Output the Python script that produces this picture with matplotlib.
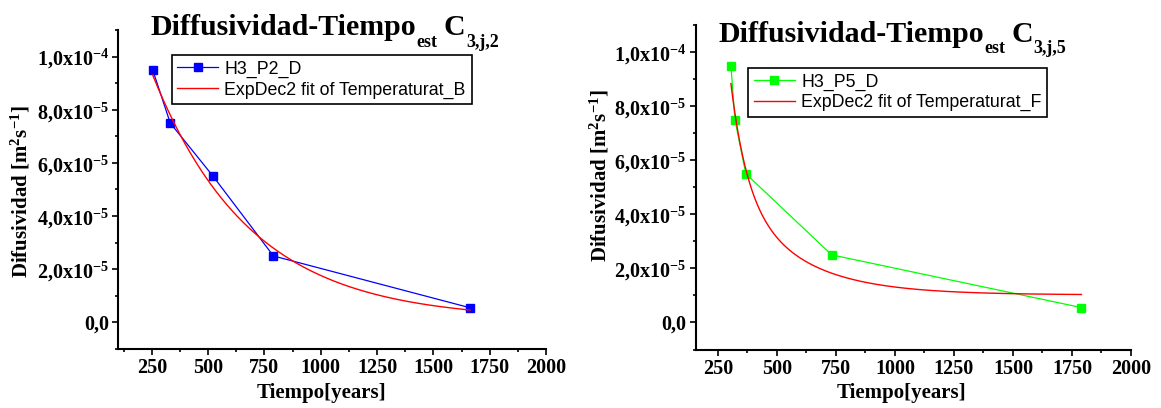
import numpy as np
import matplotlib
matplotlib.use("Agg")
from matplotlib import pyplot as plt
from matplotlib.ticker import MultipleLocator, FixedLocator, FixedFormatter

W, H = 1161, 408

# H3_P2_D measurements
p2_time = [254, 332, 522, 790, 1663]
p2_diff = [9.5e-5, 7.5e-5, 5.5e-5, 2.5e-5, 5.5e-6]
# ExpDec2 fit of Temperaturat_B: y0, A1, t1, A2, t2
p2_fit = (1.0e-6, 0.9e-4, 420.0, 0.75e-4, 455.0)

# H3_P5_D measurements
p5_time = [305, 322, 368, 732, 1790]
p5_diff = [9.5e-5, 7.5e-5, 5.5e-5, 2.5e-5, 5.5e-6]
# ExpDec2 fit of Temperaturat_F: y0, A1, t1, A2, t2
p5_fit = (1.02e-5, 3.42e-3, 68.0, 1.245e-4, 266.0)

y_ticks = [0.0, 2e-5, 4e-5, 6e-5, 8e-5, 1e-4]
y_tick_labels = ["0,0", "2,0x10$^{-5}$", "4,0x10$^{-5}$", "6,0x10$^{-5}$",
                 "8,0x10$^{-5}$", "1,0x10$^{-4}$"]

plt.rcParams["mathtext.fontset"] = "custom"
plt.rcParams["mathtext.rm"] = "Liberation Serif:bold"
plt.rcParams["mathtext.bf"] = "Liberation Serif:bold"
plt.rcParams["mathtext.it"] = "Liberation Serif:bold:italic"
plt.rcParams["mathtext.default"] = "rm"

SERIF = "Liberation Serif"
SANS = "Liberation Sans"


def expdec2(x, y0, a1, t1, a2, t2):
    return y0 + a1 * np.exp(-x / t1) + a2 * np.exp(-x / t2)


def px_axes(fig, left, top, right, bottom):
    return fig.add_axes([left / W, 1 - bottom / H, (right - left) / W, (bottom - top) / H])


def draw_title(fig, x_px, base_px, parts):
    renderer = fig.canvas.get_renderer()
    x = x_px
    for text, size, drop, gap in parts:
        t = fig.text(x / W, 1 - (base_px + drop) / H, text, fontsize=size,
                     fontweight="bold", family=SERIF, ha="left", va="baseline")
        x = t.get_window_extent(renderer).x1 + gap


def style_axes(ax, xmin):
    ax.set_xlim(xmin, 2000)
    ax.set_ylim(-1e-5, 1.1e-4)
    for side in ("top", "right"):
        ax.spines[side].set_visible(False)
    for side in ("left", "bottom"):
        ax.spines[side].set_linewidth(1.5)
    ax.xaxis.set_major_locator(MultipleLocator(250))
    ax.xaxis.set_minor_locator(MultipleLocator(125))
    ax.yaxis.set_major_locator(FixedLocator(y_ticks))
    ax.yaxis.set_major_formatter(FixedFormatter(y_tick_labels))
    ax.yaxis.set_minor_locator(MultipleLocator(1e-5))
    ax.tick_params(which="major", direction="out", length=4, width=1.2, pad=2.5)
    ax.tick_params(which="minor", direction="out", length=2.2, width=1.2)
    for lab in ax.get_xticklabels():
        lab.set_fontfamily(SERIF)
        lab.set_fontweight("bold")
        lab.set_fontsize(14.5)
    for lab in ax.get_yticklabels():
        lab.set_fontfamily(SERIF)
        lab.set_fontweight("bold")
        lab.set_fontsize(14.5)


def draw_panel(ax, times, diffs, fit, color, name, fit_name, legend_xy):
    t = np.asarray(times, dtype=float)
    xs = np.linspace(t.min(), t.max(), 300)
    ax.plot(times, diffs, color=color, lw=0.9, marker="s", ms=5.5,
            mec=color, mfc=color, label=name, zorder=3)
    ax.plot(xs, expdec2(xs, *fit), color="#ff0000", lw=1.0, label=fit_name, zorder=4)
    leg = ax.legend(loc="upper left", bbox_to_anchor=(legend_xy[0] / W, 1 - legend_xy[1] / H),
                    bbox_transform=ax.figure.transFigure, borderaxespad=0,
                    prop={"family": SANS, "size": 12.8}, frameon=True, fancybox=False,
                    framealpha=1, edgecolor="black", handlelength=2.3,
                    handletextpad=0.35, labelspacing=0.2, borderpad=0.32)
    leg.get_frame().set_linewidth(1.2)


fig = plt.figure(figsize=(W / 100, H / 100), dpi=100)
fig.patch.set_facecolor("white")

ax1 = px_axes(fig, 118, 30, 546, 349)
style_axes(ax1, 100)
draw_panel(ax1, p2_time, p2_diff, p2_fit, "#0000ff", "H3_P2_D",
           "ExpDec2 fit of Temperaturat_B", (171.7, 55))

ax2 = px_axes(fig, 695.5, 25, 1131, 349.5)
style_axes(ax2, 155)
draw_panel(ax2, p5_time, p5_diff, p5_fit, "#00ff00", "H3_P5_D",
           "ExpDec2 fit of Temperaturat_F", (748.3, 67.7))

# axis titles
ylabel = "Difusividad [m$^{2}$s$^{-1}$]"
for xc, yc in ((21, 192), (600, 176)):
    fig.text(xc / W, 1 - yc / H, ylabel, rotation=90, ha="center", va="center",
             fontsize=15, fontweight="bold", family=SERIF)
for xc in (321, 901):
    fig.text(xc / W, 1 - 398 / H, "Tiempo[years]", ha="center", va="baseline",
             fontsize=15, fontweight="bold", family=SERIF)

draw_title(fig, 150.7, 35, [("Diffusividad-Tiempo", 21.5, 0, 0), ("est", 13, 12, 6),
                            ("C", 21.5, 0, 1), ("3,j,2", 13, 12, 0)])
draw_title(fig, 718.5, 41.7, [("Diffusividad-Tiempo", 21.5, 0, 0), ("est", 13, 11.7, 6),
                              ("C", 21.5, 0, 1), ("3,j,5", 13, 11.7, 0)])

fig.savefig("out.png", dpi=100, facecolor="white")
